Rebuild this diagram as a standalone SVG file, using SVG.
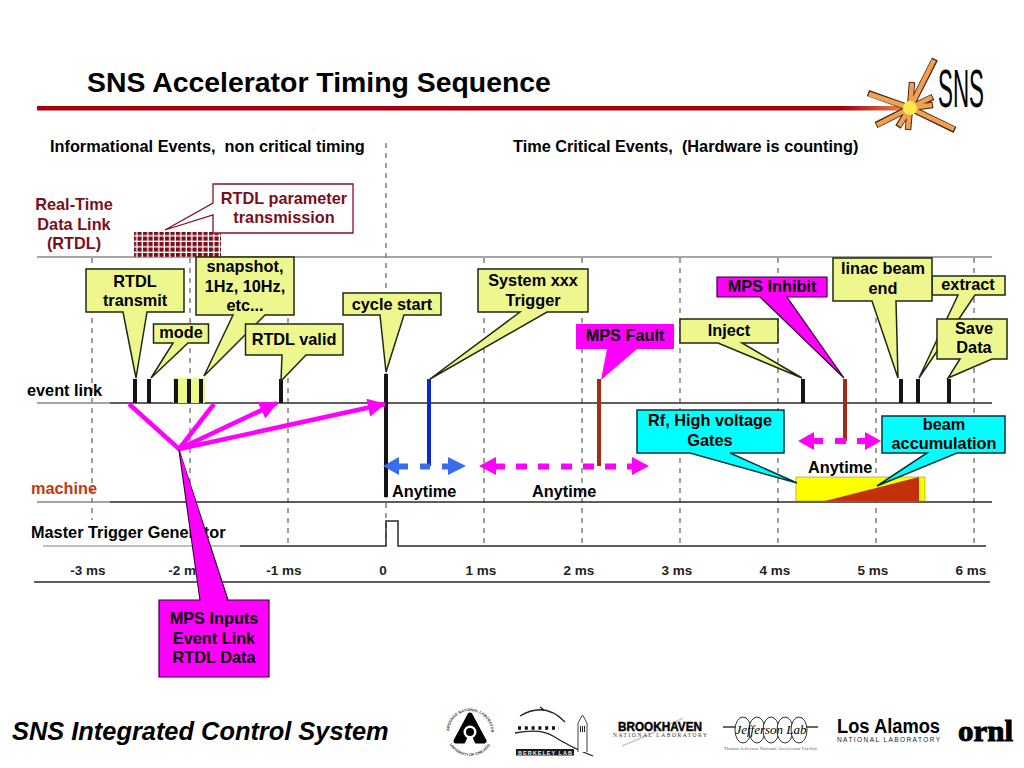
<svg xmlns="http://www.w3.org/2000/svg" width="1024" height="768" viewBox="0 0 1024 768">
<style>
text{font-family:"Liberation Sans",Arial,sans-serif;font-weight:bold;font-size:16.3px;fill:#000;white-space:pre}
.m{text-anchor:middle}
.dr{fill:#7a0f1c}
.y{fill:#eef78e;stroke:#1c2a10;stroke-width:1.5}
.g{fill:#ff00ff;stroke:#300030;stroke-width:1.2}
.c{fill:#00ffff;stroke:#06343a;stroke-width:1.5}
.grid{stroke:#888;stroke-width:1.6;stroke-dasharray:5 5;fill:none}
.rule{stroke:#888;stroke-width:1.5}
.k{stroke:#2a2a2a;stroke-width:1.5;fill:none}
.tick{stroke:#141414;stroke-width:4}
.red{stroke:#a82a14;stroke-width:4}
.pk{stroke:#ff00ff;stroke-width:4.5;fill:none}
.axis{fill:#222;font-size:13.5px}
.ray{stroke:#4a2a1a;stroke-width:6.5}
.ray2{stroke:#f0a050;stroke-width:4.5}
</style>
<defs>
<linearGradient id="bar" x1="0" x2="1" y1="0" y2="0"><stop offset="0" stop-color="#a80010"/><stop offset=".93" stop-color="#a80010"/><stop offset="1" stop-color="#e88a50"/></linearGradient>
<pattern id="mesh" width="5.5" height="5.5" patternUnits="userSpaceOnUse"><rect width="5.5" height="5.5" fill="#fff"/><rect width="4.2" height="4.2" fill="#7a0f1c"/></pattern>
<marker id="ah" viewBox="0 0 10 10" refX="9.5" refY="5" markerUnits="userSpaceOnUse" markerWidth="22" markerHeight="18" orient="auto"><path d="M0 0L10 5L0 10z" fill="#ff00ff"/></marker>
<path id="ringTop" d="M449 732A21 21 0 0 1 491 732"/>
<path id="ringBot" d="M446 732A24 24 0 0 0 494 732"/>
</defs>
<rect width="1024" height="768" fill="#fff"/>
<g id="title">
<text x="87" y="92" style="font-size:28.400px">SNS Accelerator Timing Sequence</text>
<rect x="37" y="106" width="868" height="4.500" fill="url(#bar)"/>
</g>
<g id="sns-logo">
<path class="ray" d="M910 108L935 59M910 108L868 93M910 108L912 82M910 108L933 97M910 108L933 105M910 108L876 125M910 108L898 127M910 108L908 130M910 108L955 130"/>
<path class="ray2" stroke="#f0a050" d="M910 108L934 60M910 108L869 94M910 108L912 83M910 108L932 97M910 108L932 105M910 108L877 125M910 108L899 126M910 108L908 129M910 108L954 129"/>
<circle cx="910" cy="108" r="7" fill="#ffe84a"/>
<text x="938" y="107" style="font-size:53px;font-weight:normal" textLength="46" lengthAdjust="spacingAndGlyphs">SNS</text>
</g>
<g id="grid">
<path class="grid" d="M92 258V520M190 258V520M288 258V545M386 143V545M484 258V545M582 258V545M680 258V545M778 258V545M876 258V545M974 258V545"/>
</g>
<g id="rules">
<path class="rule" d="M37 257H992M37 403H110M37 502H110"/>
<path class="k" d="M110 403H992M110 502H992"/>
<path stroke="#aaa" stroke-width="1.5" d="M43 546H240"/>
<path class="k" d="M240 546H386V521H398V546H986"/>
<path class="k" d="M34 582H990"/>
</g>
<g id="headers">
<text x="50" y="152">Informational Events,  non critical timing</text>
<text x="513" y="152">Time Critical Events,  (Hardware is counting)</text>
<text class="m dr" x="74" y="210">Real-Time</text>
<text class="m dr" x="74" y="230">Data Link</text>
<text class="m dr" x="74" y="249">(RTDL)</text>
<text x="27" y="396">event link</text>
<text x="31" y="494" style="fill:#c03a10">machine</text>
<text x="31" y="538">Master Trigger Generator</text>
</g>
<g id="axis">
<text class="axis m" x="88" y="575">-3 ms</text>
<text class="axis m" x="186" y="575">-2 ms</text>
<text class="axis m" x="284" y="575">-1 ms</text>
<text class="axis m" x="383" y="575">0</text>
<text class="axis m" x="481" y="575">1 ms</text>
<text class="axis m" x="579" y="575">2 ms</text>
<text class="axis m" x="677" y="575">3 ms</text>
<text class="axis m" x="775" y="575">4 ms</text>
<text class="axis m" x="873" y="575">5 ms</text>
<text class="axis m" x="971" y="575">6 ms</text>
</g>
<g id="rtdl-block"><rect x="134" y="232" width="87" height="25" fill="url(#mesh)"/></g>
<g id="events">
<rect x="173" y="378" width="32" height="25" fill="#eef78e"/>
<path class="tick" d="M135 379V403M149 379V403M176 379V403M189 379V403M201 379V403M281 379V403M803 379V403M901 379V403M918 379V403M949 379V403"/>
<path class="tick" d="M386 374V497"/>
<path stroke="#0a28d0" stroke-width="4" d="M429 379V466"/>
<path class="red" d="M599 379V466M845 379V441"/>
</g>
<g id="connectors">
<path class="pk" d="M129 404L179 449L214 404"/>
<path class="pk" d="M179 449L277 403" marker-end="url(#ah)"/>
<path class="pk" d="M179 449L385 404" marker-end="url(#ah)"/>
<g fill="#3a6cf0">
<polygon points="383,466 399,457 399,463.500 408,463.500 408,469.500 399,469.500 399,475"/>
<rect x="420" y="463.500" width="10" height="6"/>
<polygon points="466,466 448,457 448,463.500 442,463.500 442,469.500 448,469.500 448,475"/>
</g>
<g fill="#ff00ff">
<polygon points="479,466 496,457 496,463.500 505,463.500 505,469.500 496,469.500 496,475"/>
<rect x="516" y="463.500" width="11" height="6"/><rect x="538" y="463.500" width="11" height="6"/><rect x="561" y="463.500" width="11" height="6"/><rect x="583" y="463.500" width="11" height="6"/><rect x="605" y="463.500" width="11" height="6"/>
<polygon points="649,466 632,457 632,463.500 627,463.500 627,469.500 632,469.500 632,475"/>
<polygon points="798,441 814,432 814,438 823,438 823,444 814,444 814,450"/>
<rect x="835" y="438" width="11" height="6"/>
<polygon points="881,441 865,432 865,438 857,438 857,444 865,444 865,450"/>
</g>
</g>
<g id="beam-gate">
<rect x="796" y="477" width="129" height="24" fill="#ffff00" stroke="#8a8a30" stroke-width=".6"/>
<polygon points="825,501 919,477 919,501" fill="#c4300c"/>
</g>
<g id="anytime">
<text x="392" y="497">Anytime</text>
<text x="532" y="497">Anytime</text>
<text x="808" y="473">Anytime</text>
</g>
<g id="rtdl-param">
<path fill="#fff" stroke="#8a1020" stroke-width="1.3" d="M213 184H353V233H213V215L165 230L213 203Z"/>
<text class="m dr" x="284" y="204">RTDL parameter</text>
<text class="m dr" x="284" y="223">transmission</text>
</g>
<g id="rtdl-transmit">
<path class="y" d="M86 269H184V312H147L136 378L123 312H86Z"/>
<text class="m" x="135" y="287">RTDL</text><text class="m" x="135" y="306">transmit</text>
</g>
<g id="mode">
<path class="y" d="M153.500 324H208.500V343H188L151 378L173 343H153.500Z"/>
<text class="m" x="181" y="338">mode</text>
</g>
<g id="snapshot">
<path class="y" d="M196 257H294V315H265L204 376L233 315H196Z"/>
<text class="m" x="245" y="272">snapshot,</text><text class="m" x="245" y="292">1Hz, 10Hz,</text><text class="m" x="245" y="311">etc...</text>
</g>
<g id="rtdl-valid">
<path class="y" d="M245.500 324H343V355H306L281 381L282 355H245.500Z"/>
<text class="m" x="294" y="345">RTDL valid</text>
</g>
<g id="cycle-start">
<path class="y" d="M343 293H441V315H404L386 372L380 315H343Z"/>
<text class="m" x="392" y="310">cycle start</text>
</g>
<g id="system-trigger">
<path class="y" d="M478 269H588V312H547L430 379L520 312H478Z"/>
<text class="m" x="533" y="286">System xxx</text><text class="m" x="533" y="306">Trigger</text>
</g>
<g id="mps-fault">
<path class="g" style="stroke:none" d="M576 324H674V349H637L601 380L607 349H576Z"/>
<text class="m" x="625" y="341">MPS Fault</text>
</g>
<g id="inject">
<path class="y" d="M680 319H778V343H742L802 378L718 343H680Z"/>
<text class="m" x="729" y="336">Inject</text>
</g>
<g id="mps-inhibit">
<path class="g" d="M717 277H827V297H787L844 378L760 297H717Z"/>
<text class="m" x="772" y="292">MPS Inhibit</text>
</g>
<g id="extract">
<path class="y" d="M932 276H1005V295H975L919 378L958 295H932Z"/>
<text class="m" x="968" y="290">extract</text>
</g>
<g id="linac-end">
<path class="y" d="M833 258H932V301H896L898 378L872 301H833Z"/>
<text class="m" x="883" y="274">linac beam</text><text class="m" x="883" y="294">end</text>
</g>
<g id="save-data">
<path class="y" d="M937 319H1007V359H992L948 378L960 359H937Z"/>
<text class="m" x="974" y="334">Save</text><text class="m" x="974" y="353">Data</text>
</g>
<g id="rf-gates">
<path class="c" d="M637 410H784V453H730L797 483L690 453H637Z"/>
<text class="m" x="710" y="426">Rf, High voltage</text><text class="m" x="710" y="446">Gates</text>
</g>
<g id="beam-accumulation">
<path class="c" d="M882 416H1005V453H957L877 486L927 453H882Z"/>
<text class="m" x="944" y="430">beam</text><text class="m" x="944" y="449">accumulation</text>
</g>
<g id="mps-inputs">
<path class="g" d="M159 600H269V677H159ZM200 600L179 450L228 600Z"/>
<path fill="#ff00ff" d="M201 602L180 452L227 602Z"/>
<text class="m" x="214" y="624">MPS Inputs</text><text class="m" x="214" y="644">Event Link</text><text class="m" x="214" y="663">RTDL Data</text>
</g>
<g id="footer">
<text x="12" y="740" style="font-size:25.400px;font-style:italic">SNS Integrated Control System</text>
</g>
<g id="logos">
<g id="argonne">
<text style="font-size:3.800px;fill:#333"><textPath href="#ringTop" startOffset="1">ARGONNE NATIONAL LABORATORY</textPath></text>
<text style="font-size:3.800px;fill:#333"><textPath href="#ringBot" startOffset="13">UNIVERSITY OF CHICAGO</textPath></text>
<path d="M470 715L484 741H456Z" fill="#000" stroke="#000" stroke-width="5" stroke-linejoin="round"/>
<path d="M464 745L470 732L476 745Z" fill="#fff"/>
<circle cx="470" cy="732" r="6.500" fill="#fff"/>
<circle cx="470" cy="732" r="4" fill="#000"/>
</g>
<g id="berkeley">
<path d="M520 716Q545 701 565 722M515 733Q540 728 553 736Q572 748 593 756M540 707L544 710" fill="none" stroke="#222" stroke-width="1.3"/>
<path d="M518 728H559" stroke="#111" stroke-width="3.500" stroke-dasharray="3 3.800"/>
<path d="M578 752V723L582.500 715L587 723V752" fill="#fff" stroke="#444"/>
<path d="M580 729H585" stroke="#222" stroke-width="6" stroke-dasharray="1 1"/>
<rect x="516" y="749" width="58" height="6.500" fill="#1a1a1a"/>
<text x="518" y="754.500" style="font-size:5.500px;fill:#eee" textLength="54">BERKELEY LAB</text>
</g>
<g id="brookhaven">
<path d="M622 746Q650 735 683 718" fill="none" stroke="#ccc" stroke-width="1.500"/>
<text x="618" y="731" style="font-size:12px;font-weight:bold;stroke:#000;stroke-width:.4" textLength="84" lengthAdjust="spacingAndGlyphs">BROOKHAVEN</text>
<text x="613" y="737" style="font-size:5.500px;font-family:'Liberation Serif',serif;font-weight:normal;fill:#333" textLength="94">NATIONAL LABORATORY</text>
</g>
<g id="jefferson">
<path d="M723 727H818" stroke="#333" stroke-width="1.300"/>
<g fill="#fff" stroke="#333"><ellipse cx="743" cy="730" rx="8" ry="13"/><ellipse cx="757" cy="730" rx="8" ry="13"/><ellipse cx="771" cy="730" rx="8" ry="13"/><ellipse cx="785" cy="730" rx="8" ry="13"/><ellipse cx="799" cy="730" rx="8" ry="13"/></g>
<text x="771" y="734" class="m" style="font-size:13px;font-style:italic;font-weight:normal;font-family:'Liberation Serif',serif">Jefferson Lab</text>
<text x="724" y="750" style="font-size:4px;font-weight:normal;fill:#444;font-family:'Liberation Serif',serif" textLength="93">Thomas Jefferson National Accelerator Facility</text>
</g>
<g id="los-alamos">
<text x="837" y="733" style="font-size:20px;font-weight:bold" textLength="103" lengthAdjust="spacingAndGlyphs">Los Alamos</text>
<text x="837" y="742" style="font-size:6.500px;font-weight:normal;fill:#222" textLength="103">NATIONAL LABORATORY</text>
</g>
<g id="ornl">
<text x="958" y="741" style="font-size:30px;font-family:'Liberation Serif',serif;font-weight:bold;stroke:#000;stroke-width:1" textLength="55" lengthAdjust="spacingAndGlyphs">ornl</text>
</g>
</g>
</svg>
